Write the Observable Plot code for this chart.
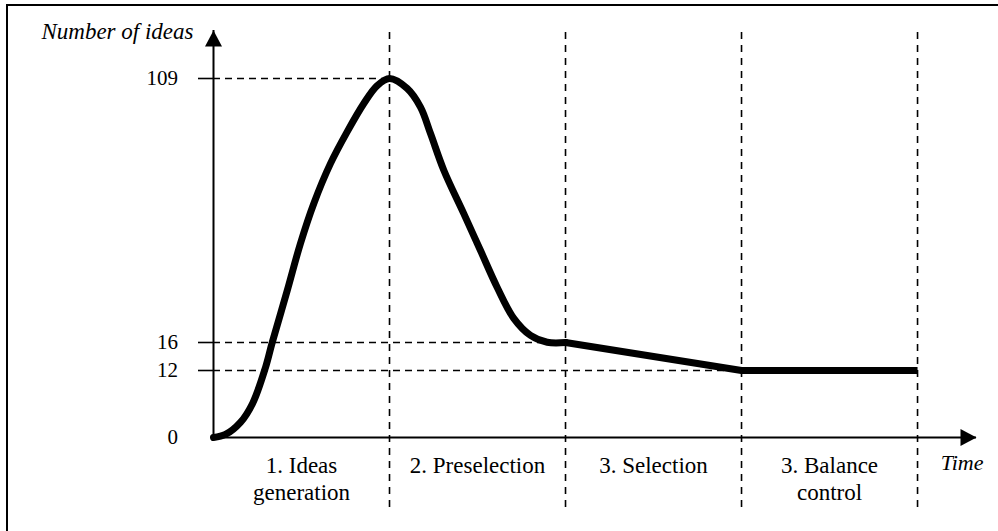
<!DOCTYPE html>
<html>
<head>
<meta charset="utf-8">
<script src="https://cdn.jsdelivr.net/npm/d3@7"></script>
<script src="https://cdn.jsdelivr.net/npm/@observablehq/plot@0.6"></script>
<style>
  html, body { margin: 0; padding: 0; background: #fff; overflow: hidden; }
  #wrap { position: relative; width: 998px; height: 531px; }
  #border { position: absolute; left: 6px; top: 4px; width: 1000px; height: 600px;
            border-top: 2px solid #000; border-left: 2px solid #000; pointer-events: none; }
</style>
</head>
<body>
<div id="wrap"><div id="border"></div></div>
<script>
// ---- data ----
const stageLabels = ["1. Ideas\ngeneration", "2. Preselection", "3. Selection", "3. Balance\ncontrol"];
const stageCenters = [0.5, 1.5, 2.5, 3.5];
const stageEnds = [1, 2, 3, 4];
const tickValues = [0, 12, 16, 109];
const tickMarks = [12, 16, 109];
const guideValues = [109, 16, 12];
const guideEnds = [1, 2, 3];
// smooth part of the curve (time in stage units, number of ideas)
const curveT = [0, 0.068, 0.153, 0.222, 0.295, 0.334, 0.419, 0.494, 0.570, 0.665, 0.760, 0.854, 0.930, 1.0, 1.10, 1.176, 1.233, 1.309, 1.422, 1.517, 1.612, 1.706, 1.801, 1.896, 2.0];
const curveV = [0, 0.54, 2.7, 6.1, 12.4, 16.1, 34.3, 50.9, 65.0, 79.1, 90.3, 100.2, 106.5, 109, 105.5, 98.9, 89.6, 76.6, 61.4, 48.4, 35.4, 24.5, 18.5, 16.1, 16];
// straight part
const tailT = [2, 3, 4];
const tailV = [16, 12, 12];

const xEnd = 4.335;   // end of time axis (arrow tip)
const yTop = 126;     // end of value axis (arrow tip)

// schematic (non-proportional) value axis: breakpoints and their relative heights
const yBreaks = [0, 12, 16, 109, yTop];
const yHeights = [0, 67, 95, 359, 407];
const warp = d3.scaleLinear().domain(yBreaks).range(yHeights);
const Y = v => warp(v);

const serif = "'Liberation Serif', 'DejaVu Serif', 'Times New Roman', serif";

const arrowUp = { draw(ctx) { ctx.moveTo(0, 0); ctx.lineTo(-8.5, 16); ctx.lineTo(8.5, 16); ctx.closePath(); } };

const chart = Plot.plot({
  width: 998,
  height: 531,
  marginTop: 32,
  marginBottom: 21,
  marginLeft: 0,
  marginRight: 0,
  style: { background: "transparent" },
  x: { domain: [0, xEnd], range: [213, 976], axis: null },
  y: { domain: [0, Y(yTop)], range: [437, 30], axis: null },
  marks: [
    // vertical stage separators
    Plot.ruleX(stageEnds, { x: d => d, stroke: "#000", strokeWidth: 1.6, strokeDasharray: "7,6" }),
    // horizontal guides
    Plot.ruleY(guideValues, { y: d => Y(d), x1: 0, x2: (d, i) => guideEnds[i], stroke: "#000", strokeWidth: 1.4, strokeDasharray: "7,5" }),
    // axes
    Plot.ruleX([0], { x: d => d, y1: Y(0), y2: Y(yTop), stroke: "#000", strokeWidth: 2 }),
    Plot.ruleY([0], { y: d => Y(d), x1: 0, x2: xEnd, stroke: "#000", strokeWidth: 2 }),
    Plot.ruleY(tickMarks, { y: d => Y(d), x1: 0, x2: 0, insetLeft: -15, stroke: "#000", strokeWidth: 1.6 }),
    Plot.dot([yTop], { x: 0, y: d => Y(d), symbol: arrowUp, fill: "#000", stroke: null }),
    Plot.dot([0], { x: xEnd, y: d => Y(d), symbol: arrowUp, rotate: 90, fill: "#000", stroke: null }),
    // curve
    Plot.line(curveV, { x: curveT, y: curveV.map(Y), curve: "catmull-rom", stroke: "#000", strokeWidth: 7, strokeLinecap: "round", strokeLinejoin: "round" }),
    Plot.line(tailV, { x: tailT, y: tailV.map(Y), curve: "linear", stroke: "#000", strokeWidth: 7, strokeLinecap: "butt", strokeLinejoin: "miter" }),
    // tick labels
    Plot.text(tickValues, { x: 0, y: d => Y(d), text: d => String(d), textAnchor: "end", dx: -35.5, fontFamily: serif, fontSize: 21, fill: "#000" }),
    // stage labels
    Plot.text(stageLabels, { x: stageCenters, y: stageLabels.map(() => Y(0)), text: d => d, lineAnchor: "top", lineHeight: 1.17, dy: 16.7, fontFamily: serif, fontSize: 23, fill: "#000" }),
    // axis titles
    Plot.text(["Time"], { x: xEnd, y: Y(0), text: d => d, textAnchor: "end", lineAnchor: "top", dx: 7, dy: 17, fontFamily: serif, fontStyle: "italic", fontSize: 22, fill: "#000" }),
    Plot.text(["Number of ideas"], { x: 0, y: Y(yTop), text: d => d, textAnchor: "end", dx: -20, dy: 1, fontFamily: serif, fontStyle: "italic", fontSize: 23, fill: "#000" })
  ]
});
chart.style.position = "absolute";
chart.style.left = "0";
chart.style.top = "0";
document.getElementById("wrap").appendChild(chart);
</script>
</body>
</html>
